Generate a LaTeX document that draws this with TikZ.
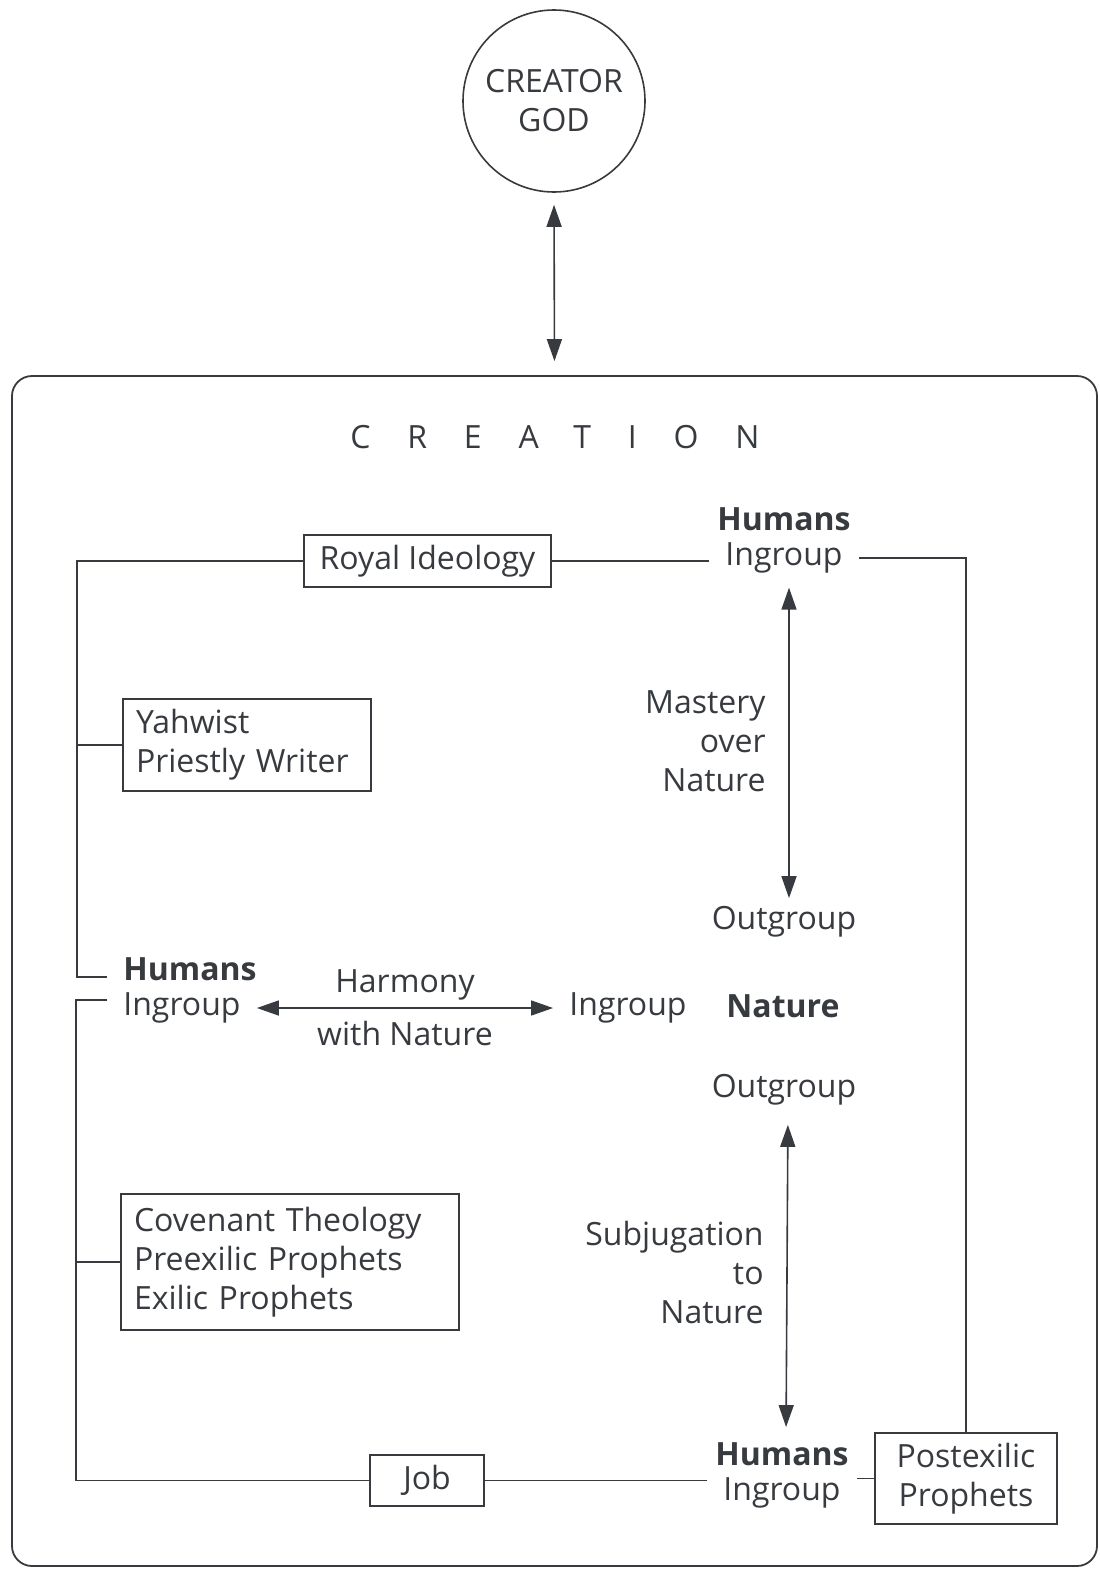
\documentclass[tikz,border=0pt]{standalone}
\usepackage{fontspec}
\setmainfont{Open Sans}
\usetikzlibrary{arrows.meta}
\definecolor{ink}{RGB}{55,58,62}

\begin{document}
\begin{tikzpicture}[x=0.5pt, y=-0.5pt,
    every node/.style={text=ink, font=\fontsize{16}{19.5}\selectfont},
    strong/.style={font=\fontsize{16}{19.5}\selectfont\bfseries},
    word/.style={inner xsep=8pt, inner ysep=1pt},
    tag/.style={draw=ink, line width=0.8pt, rectangle, inner xsep=6.5pt, align=left},
    link/.style={draw=ink, line width=0.8pt},
    both/.style={link, {Triangle[length=11pt,width=7.5pt]}-{Triangle[length=11pt,width=7.5pt]}}]

  % Picture size
  \useasboundingbox (0,0) rectangle (1099,1569);

  % God and creation
  \node[circle, draw=ink, line width=0.8pt, minimum size=91pt, align=center] (god) at (554,101) {CREATOR\\GOD};
  \node[rectangle, draw=ink, line width=0.9pt, rounded corners=10pt, minimum width=542.5pt, minimum height=595pt] (creation) at (554.5,971) {};
  \node[inner sep=0pt, anchor=west] (creationlbl) at (350,437) {\addfontfeature{LetterSpace=115}CREATION};

  % Boxes
  \node[tag, minimum width=123.5pt, minimum height=26pt, align=center] (royal) at (427.5,561) {Royal Ideology};
  \node[tag, text width=111pt, minimum height=46pt] (yahw) at (247,745) {Yahwist\\Priestly Writer};
  \node[tag, text width=156pt, minimum height=68pt] (cov) at (290,1262) {Covenant Theology\\Preexilic Prophets\\Exilic Prophets};
  \node[tag, minimum width=57pt, minimum height=25.5pt, align=center] (job) at (427,1480.5) {Job};
  \node[tag, text width=78pt, minimum height=45.5pt, align=center] (post) at (966,1478.5) {Postexilic\\Prophets};

  % Humans and nature
  \node[word, strong] (hu1h) at (784,519) {Humans};
  \node[word] (hu1) at (784,558) {Ingroup};
  \node[word, strong, anchor=west] (hu2h) at (107,969) {Humans};
  \node[word, anchor=west] (hu2) at (107,1008) {Ingroup};
  \node[word] (nin) at (628,1008) {Ingroup};
  \node[word, strong] (nat) at (783,1006) {Nature};
  \node[word] (out1) at (784,922) {Outgroup};
  \node[word] (out2) at (784,1090) {Outgroup};
  \node[word, strong] (hu3h) at (782,1454) {Humans};
  \node[word] (hu3) at (782,1493) {Ingroup};

  % Arrow labels
  \node[align=right, anchor=east, inner xsep=0pt] (mastery) at (766,741) {Mastery\\over\\Nature};
  \node[align=right, anchor=east, inner xsep=0pt] (subj) at (764,1272) {Subjugation\\to\\Nature};

  % Arrows
  \draw[both, shorten <=6pt, shorten >=7pt] (god.south) -- (creation.north);
  \draw[both, shorten <=6pt, shorten >=3pt] ([xshift=2.5pt]hu1.south) -- ([xshift=2.5pt]out1.north);
  \draw[both, shorten <=8.5pt, shorten >=6.5pt] ([xshift=2pt]out2.south) -- ([xshift=2pt]hu3h.north);
  \draw[both] (hu2.east) -- (nin.west)
    node[midway, above] (harm) {Harmony}
    node[midway, below=3pt] (withnat) {with Nature};

  % Lines
  \draw[link] (royal.east) -- (royal.east -| hu1.west);
  \draw[link] (hu1.east) -| (post.north);
  \draw[link] (royal.west) -- ++(-226,0) |- ([yshift=-4pt]hu2h.west);
  \draw[link] (yahw.west) -- ++(-45,0);
  \draw[link] ([yshift=4pt]hu2.west) -- ++(-31,0) |- (job.west);
  \draw[link] (cov.west) -- ++(-45,0);
  \draw[link] (job.east) -- (job.east -| hu3.west);
  \draw[link] (post.west) -- (post.west -| hu3.east);

\end{tikzpicture}
\end{document}
